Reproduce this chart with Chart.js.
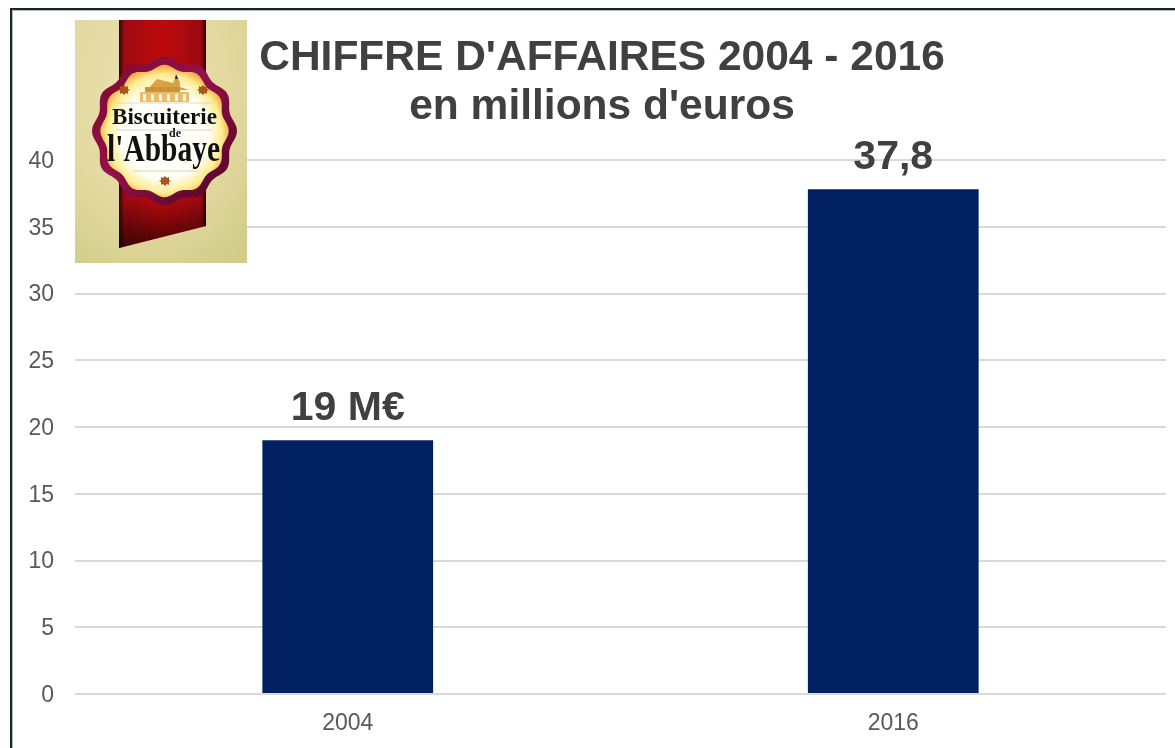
<!DOCTYPE html>
<html><head><meta charset="utf-8">
<script src="https://cdn.jsdelivr.net/npm/chart.js@4/dist/chart.umd.min.js"></script>
<style>
html,body{margin:0;padding:0;background:#fff;width:1175px;height:748px;overflow:hidden}
#frame{position:absolute;left:10px;top:8px;width:1300px;height:900px;border-left:2px solid #12282b;border-top:2px solid #12282b;box-shadow:inset 1px 1px 0 #bbb}
#wrap{position:absolute;left:0;top:0;width:1175px;height:748px}
#logo{position:absolute;left:75px;top:20px;width:172px;height:243px}
</style></head><body>
<div id="frame"></div>
<div id="wrap"><canvas id="c" width="1175" height="748"></canvas></div>
<svg id="logo" viewBox="75 20 172 243" xmlns="http://www.w3.org/2000/svg">
<defs>
<radialGradient id="bg" cx="42%" cy="30%" r="85%"><stop offset="0" stop-color="#ebe2b4"/><stop offset=".6" stop-color="#e2d89f"/><stop offset="1" stop-color="#cfcd88"/></radialGradient>
<linearGradient id="rib" x1="0" x2="1" y1="0" y2="0"><stop offset="0" stop-color="#2e0206"/><stop offset=".06" stop-color="#9c0a10"/><stop offset=".5" stop-color="#bd0a0c"/><stop offset=".94" stop-color="#9c0a10"/><stop offset="1" stop-color="#2e0206"/></linearGradient>
<linearGradient id="ribB" x1="0" x2="0" y1="0" y2="1"><stop offset="0" stop-color="#000" stop-opacity="0"/><stop offset=".78" stop-color="#000" stop-opacity="0"/><stop offset="1" stop-color="#000" stop-opacity=".65"/></linearGradient>
<radialGradient id="core" cx="50%" cy="52%" r="52%"><stop offset="0" stop-color="#fff"/><stop offset=".66" stop-color="#fffef4"/><stop offset=".86" stop-color="#fdec90"/><stop offset="1" stop-color="#f0a040"/></radialGradient>
<linearGradient id="ring" x1="0" x2="1" y1="0" y2="1"><stop offset="0" stop-color="#7a0a2c"/><stop offset=".45" stop-color="#96104a"/><stop offset="1" stop-color="#4a0420"/></linearGradient>
</defs>
<rect x="75" y="20" width="172" height="243" fill="url(#bg)"/>
<path d="M119 20H206V226L119 248Z" fill="url(#rib)"/>
<path d="M119 20H206V226L119 248Z" fill="url(#ribB)"/>
<path id="outer" fill="url(#ring)"/>
<path id="inner" fill="url(#core)"/>
<path d="M147 90L157 79L173 83L175 78L176 75L178 78L180 83V87L189 90Z" fill="#d9a145"/>
<path d="M175 79L176 74L178 79Z" fill="#222"/>
<rect x="140" y="92" width="49" height="10" fill="#e8bc6a"/>
<rect x="145" y="87" width="35" height="5" fill="#cf9234"/>
<path d="M143 94h3v7h-3zM151 94h3v7h-3zM159 94h3v7h-3zM167 94h3v7h-3zM175 94h3v7h-3zM183 94h3v7h-3z" fill="#fff6d8"/>
<g fill="#a8561a">
<path d="M124 85l2 2 2-1 0 3 2 1-2 1 0 3-2-1-2 2-2-2-2 1 0-3-2-1 2-1 0-3 2 1z"/>
<path d="M203 85l2 2 2-1 0 3 2 1-2 1 0 3-2-1-2 2-2-2-2 1 0-3-2-1 2-1 0-3 2 1z"/>
<path d="M165 176l2 2 2-1 0 3 2 1-2 1 0 3-2-1-2 2-2-2-2 1 0-3-2-1 2-1 0-3 2 1z"/>
</g>
<line x1="116" y1="103" x2="214" y2="103" stroke="#cfc8a8" stroke-width=".6"/>
<line x1="116" y1="130" x2="212" y2="130" stroke="#bbb" stroke-width=".6"/>
<line x1="133" y1="171" x2="198" y2="171" stroke="#bbb" stroke-width=".6"/>
<text x="164.5" y="124" text-anchor="middle" font-family="Liberation Serif" font-weight="bold" font-size="24" textLength="105" lengthAdjust="spacingAndGlyphs" fill="#111">Biscuiterie</text>
<text x="175" y="137" text-anchor="middle" font-family="Liberation Serif" font-weight="bold" font-size="12" fill="#111">de</text>
<text x="163.5" y="161" text-anchor="middle" font-family="Liberation Serif" font-weight="bold" font-size="38" textLength="113" lengthAdjust="spacingAndGlyphs" fill="#111">l'Abbaye</text>
</svg>
<script>
const categories = ["2004", "2016"];
const revenue = [19, 37.8];
const barLabels = ["19 M€", "37,8"];
const titleLines = ["CHIFFRE D'AFFAIRES 2004 - 2016", "en millions d'euros"];

function scallop(cx, cy, rx, ry, lobes, depth) {
  let d = "";
  for (let i = 0; i < 720; i++) {
    const a = i / 720 * Math.PI * 2;
    const k = 1 + depth * Math.cos(a * lobes);
    d += (i ? "L" : "M") + (cx + rx * k * Math.cos(a)).toFixed(1) + " " + (cy + ry * k * Math.sin(a)).toFixed(1);
  }
  return d + "Z";
}
document.getElementById("outer").setAttribute("d", scallop(164.5, 131, 70, 72, 12, 0.035));
document.getElementById("inner").setAttribute("d", scallop(164.5, 131, 62, 64, 12, 0.035));

const barValueLabels = {
  id: "barValueLabels",
  afterLayout(chart) { chart.titleBlock.left += 10; },
  afterDatasetsDraw(chart) {
    const ctx = chart.ctx;
    const meta = chart.getDatasetMeta(0);
    ctx.save();
    ctx.font = "bold 41px 'Liberation Sans'";
    ctx.fillStyle = "#404040";
    ctx.textAlign = "center";
    ctx.textBaseline = "alphabetic";
    meta.data.forEach((bar, i) => ctx.fillText(barLabels[i], bar.x, bar.y - 20));
    ctx.restore();
  }
};

new Chart(document.getElementById("c"), {
  type: "bar",
  data: { labels: categories, datasets: [{ data: revenue, backgroundColor: "#002060", barPercentage: 0.313, categoryPercentage: 1 }] },
  plugins: [barValueLabels],
  options: {
    responsive: false,
    animation: false,
    layout: { padding: { left: 28, right: 9, top: 0, bottom: 12 } },
    plugins: {
      legend: { display: false },
      tooltip: { enabled: false },
      title: {
        display: true,
        text: titleLines,
        color: "#404040",
        font: { family: "'Liberation Sans'", size: 42.5, weight: "bold", lineHeight: 1.153 },
        padding: { top: 34, bottom: 28 }
      }
    },
    scales: {
      x: {
        afterFit(s) { s.height = 42; },
        grid: { display: false, drawTicks: false },
        border: { display: false },
        ticks: { color: "#595959", font: { family: "'Liberation Sans'", size: 23 }, padding: 16 }
      },
      y: {
        min: 0, max: 40,
        afterFit(s) { s.width = 47; },
        grid: { color: "#d9d9d9", lineWidth: 2, drawTicks: false },
        border: { display: false },
        ticks: { stepSize: 5, color: "#595959", font: { family: "'Liberation Sans'", size: 23 }, padding: 21, labelOffset: 1.5 }
      }
    }
  }
});
</script>
</body></html>
